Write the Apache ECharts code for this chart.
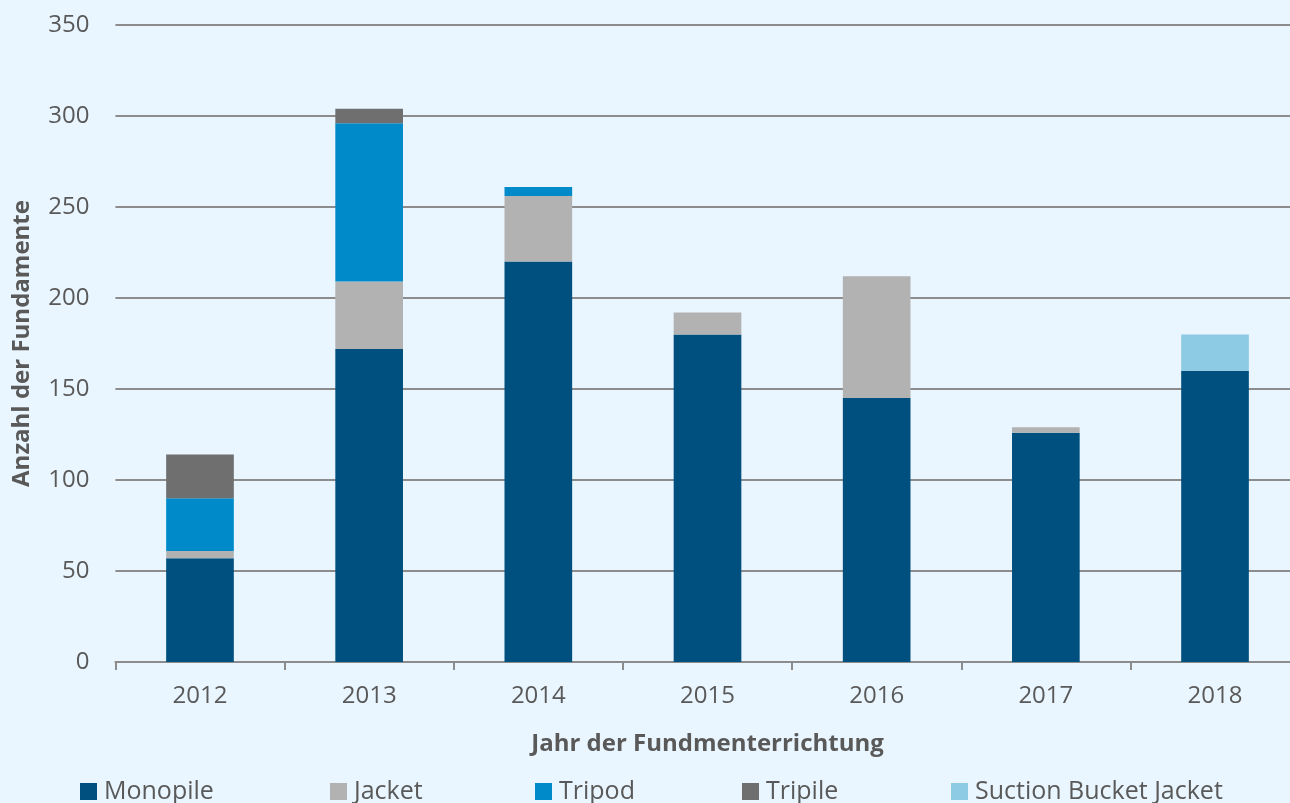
<!DOCTYPE html>
<html>
<head>
<meta charset="utf-8">
<script src="https://cdn.jsdelivr.net/npm/echarts@6/dist/echarts.min.js"></script>
<style>
  html, body { margin: 0; padding: 0; background: #EAF6FF; }
  #chart { width: 1290px; height: 803px; }
</style>
</head>
<body>
<div id="chart"></div>
<script>
const years = ['2012', '2013', '2014', '2015', '2016', '2017', '2018'];
const monopile = [57, 172, 220, 180, 145, 126, 160];
const jacket = [4, 37, 36, 12, 67, 3, 0];
const tripod = [29, 87, 5, 0, 0, 0, 0];
const tripile = [24, 8, 0, 0, 0, 0, 0];
const suctionBucketJacket = [0, 0, 0, 0, 0, 0, 20];

const seriesNames = ['Monopile', 'Jacket', 'Tripod', 'Tripile', 'Suction Bucket Jacket'];
const seriesData = [monopile, jacket, tripod, tripile, suctionBucketJacket];
const colors = ['#00507F', '#B2B2B2', '#008ACA', '#6F6F6F', '#8DCAE4'];
const legendLeft = [75, 325, 530, 737, 946];

const font = '"Open Sans", "Noto Sans", sans-serif';
const textColor = '#595959';

const chart = echarts.init(document.getElementById('chart'));
chart.setOption({
  backgroundColor: '#EAF6FF',
  textStyle: { fontFamily: font },
  animation: false,
  grid: { left: 115.4, right: -9.6, top: 25, bottom: 141, containLabel: false, outerBoundsMode: 'none' },
  legend: seriesNames.map((n, i) => ({
    data: [n],
    left: legendLeft[i],
    top: 774,
    itemWidth: 17,
    itemHeight: 17,
    itemGap: 0,
    icon: 'rect',
    selectedMode: false,
    textStyle: { fontSize: 25, color: textColor, fontFamily: font, padding: [0, 0, 0, 2] }
  })),
  xAxis: {
    type: 'category',
    data: years,
    name: 'Jahr der Fundmenterrichtung',
    nameLocation: 'middle',
    nameGap: 70,
    nameTextStyle: { fontSize: 24, fontWeight: 'bold', color: textColor, fontFamily: font },
    axisLine: { lineStyle: { color: '#8C8C8C', width: 2 } },
    axisTick: { show: true, length: 8, lineStyle: { color: '#8C8C8C', width: 2 } },
    axisLabel: { fontSize: 24, color: textColor, margin: 22, fontFamily: font }
  },
  yAxis: {
    type: 'value',
    min: 0,
    max: 350,
    interval: 50,
    name: 'Anzahl der Fundamente',
    nameLocation: 'middle',
    nameGap: 81,
    nameTextStyle: { fontSize: 24, fontWeight: 'bold', color: textColor, fontFamily: font },
    axisLine: { show: false },
    axisTick: { show: false },
    axisLabel: { fontSize: 24, color: textColor, margin: 26, fontFamily: font },
    splitLine: { lineStyle: { color: '#8C8C8C', width: 2 } }
  },
  series: seriesNames.map((n, i) => ({
    name: n,
    type: 'bar',
    stack: 'total',
    barWidth: '40%',
    data: seriesData[i],
    itemStyle: { color: colors[i] },
    emphasis: { disabled: true }
  }))
});
</script>
</body>
</html>
